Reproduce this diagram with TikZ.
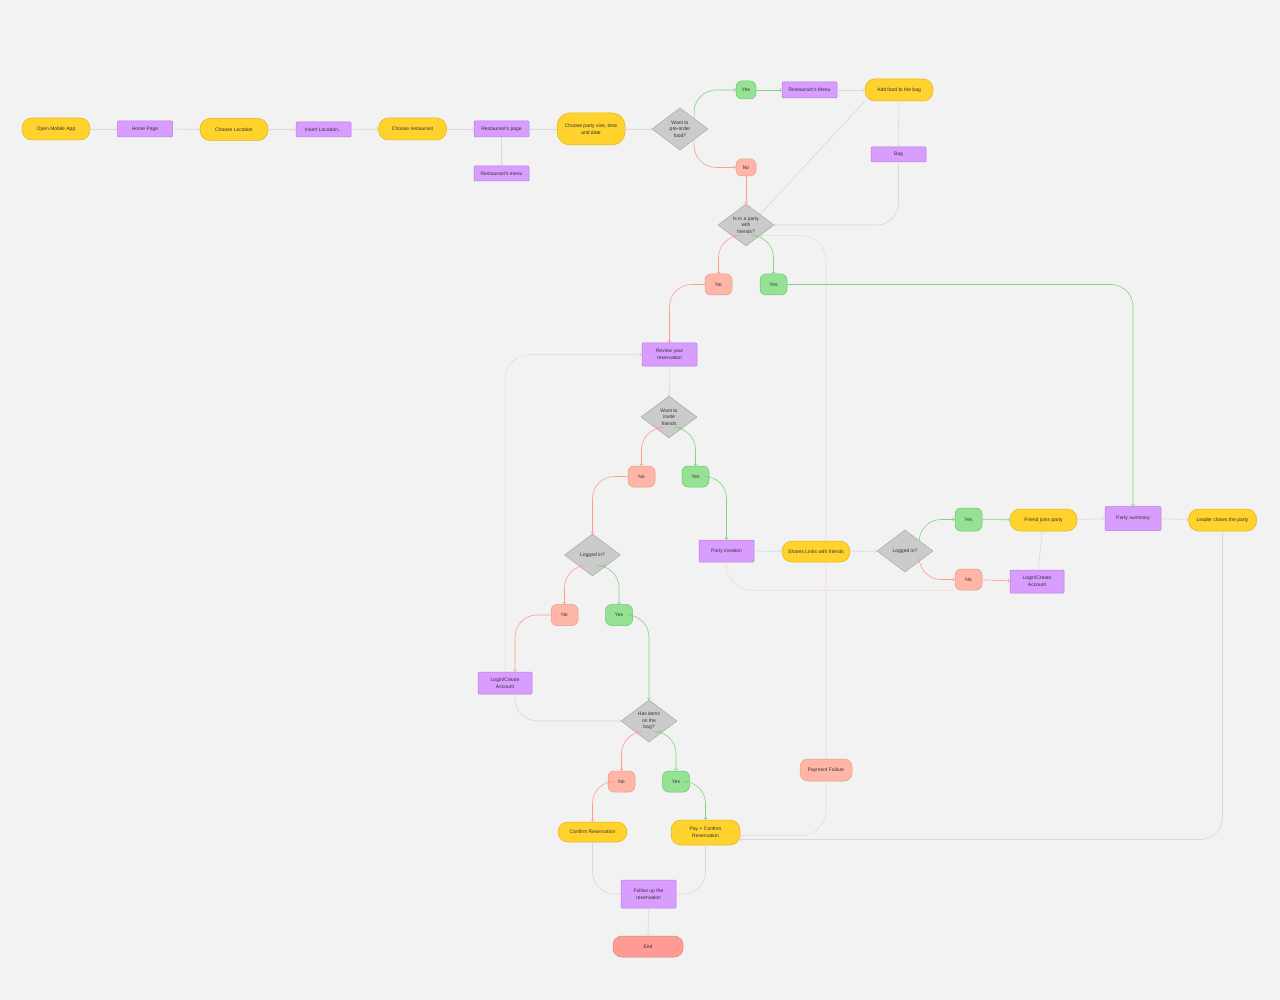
\documentclass[tikz,border=0pt]{standalone}
\usepackage{fontspec}
\setmainfont{Liberation Sans}
\usetikzlibrary{positioning,shapes.geometric}
\definecolor{bgc}{HTML}{F2F2F2}
\definecolor{pillfill}{HTML}{FFD22E}
\definecolor{pillline}{HTML}{E2B411}
\definecolor{pagefill}{HTML}{D99CFF}
\definecolor{pageline}{HTML}{B57DD9}
\definecolor{askfill}{HTML}{CBCBCB}
\definecolor{askline}{HTML}{A9A9A9}
\definecolor{yesfill}{HTML}{95E294}
\definecolor{yesline}{HTML}{6CC46B}
\definecolor{nofill}{HTML}{FFB6A6}
\definecolor{noline}{HTML}{E59A8B}
\definecolor{endfill}{HTML}{FF9A94}
\definecolor{endline}{HTML}{DC7F79}
\definecolor{flowc}{HTML}{D8D8D8}
\definecolor{yesc}{HTML}{7ED57D}
\definecolor{noc}{HTML}{FF9D8E}
\definecolor{failc}{HTML}{F5B9AF}

\begin{document}
\begin{tikzpicture}
    [x=1pt,y=-1pt,
    every node/.style={font=\fontsize{5}{6.6}\selectfont,text=black!80,
      align=center,inner sep=0pt,line width=.5pt},
    pill/.style={draw=pillline,fill=pillfill,rounded corners=10pt,
      minimum width=68pt,minimum height=22pt},
    page/.style={draw=pageline,fill=pagefill,rounded corners=1pt,
      minimum width=55pt,minimum height=16pt},
    ask/.style={diamond,aspect=1.33,draw=askline,fill=askfill,
      minimum width=56pt,minimum height=42pt},
    yesbox/.style={draw=yesline,fill=yesfill,rounded corners=6pt,
      minimum width=27pt,minimum height=21pt},
    nobox/.style={draw=noline,fill=nofill,rounded corners=6pt,
      minimum width=27pt,minimum height=21pt},
    flow/.style={draw=flowc,line width=.6pt,rounded corners=22pt},
    yesflow/.style={draw=yesc,line width=.6pt,rounded corners=22pt},
    noflow/.style={draw=noc,line width=.6pt,rounded corners=22pt},
    failflow/.style={draw=failc,line width=.6pt,densely dotted,rounded corners=25pt}]
    \useasboundingbox[fill=bgc] (0,0) rectangle (1280,1000);
    % upper row
    \node[pill] (open) at (56,129) {Open Mobile App};
    \node[page] (home) at (145,129) {Home Page};
    \node[pill] (location) at (234,129.5) {Choose Location};
    \node[page,minimum height=15pt] (insert) at (323.5,129.5) {Insert Location...};
    \node[pill] (restaurant) at (412.5,129) {Choose restaurant};
    \node[page] (rpage) at (501.5,129) {Restaurant's page};
    \node[page,minimum height=15pt] (rmenu) at (501.5,173.5) {Restaurant's menu};
    \node[pill,minimum height=32pt,rounded corners=13pt] (size) at (591,129)
      {Choose party size, time\\and date};
    \node[ask] (preorder) at (680,129) {Want to\\pre-order\\food?};
    \draw[flow,->] (open) -- (home); \draw[flow,->] (home) -- (location);
    \draw[flow,->] (location) -- (insert); \draw[flow,->] (insert) -- (restaurant);
    \draw[flow,->] (restaurant) -- (rpage); \draw[flow,->] (rpage) -- (size);
    \draw[flow,->] (rpage) -- (rmenu); \draw[flow,->] (size) -- (preorder);
    % pre-order
    \node[yesbox,minimum width=20pt,minimum height=18pt] (yes1) at (746,90) {Yes};
    \node[nobox,minimum width=20pt,minimum height=17pt] (no1) at (746,167.5) {No};
    \node[page] (menu) at (809.5,90) {Restaurant's Menu};
    \node[pill] (addfood) at (899,90) {Add food to the bag};
    \node[page,minimum height=15pt] (bag) at (898.5,154.5) {Bag};
    \node[ask] (party) at (746,225) {Is in a party\\with\\friends?};
    \draw[yesflow,->] (preorder.north east) |- (yes1.west);
    \draw[noflow,->] (preorder.south east) |- (no1.west);
    \draw[yesflow,->] (yes1) -- (menu); \draw[flow,->] (menu) -- (addfood);
    \draw[flow,->] (addfood.south west) -- (party.north east);
    \draw[flow] (addfood) -- (bag);
    \draw[flow,->] (bag.south) |- (party.east);
    \draw[noflow,->] (no1) -- (party);
    % party or not
    \node[nobox] (no2) at (718.5,284.5) {No};
    \node[yesbox] (yes2) at (773.5,284.5) {Yes};
    \node[page,minimum height=23pt] (review) at (669.5,354.5) {Review your\\reservation};
    \node[ask] (invite) at (669,417) {Want to\\invite\\friends};
    \draw[noflow,->] (party.south west) -| (no2.north);
    \draw[yesflow,->] (party.south east) -| (yes2.north);
    \draw[noflow,->] (no2.west) -| (review.north);
    \draw[flow,->] (review) -- (invite);
    % left branch
    \node[nobox] (no3) at (641.5,476.5) {No};
    \node[yesbox] (yes3) at (695.5,476.5) {Yes};
    \node[ask] (logged) at (592.5,555) {Logged in?};
    \node[nobox] (no4) at (564.5,615) {No};
    \node[yesbox] (yes4) at (619,615) {Yes};
    \node[page,minimum width=54pt,minimum height=22pt] (login) at (505,683)
      {Login/Create\\Account};
    \node[ask] (items) at (649,721) {Has items\\on the\\bag?};
    \node[nobox] (no5) at (621.5,781.5) {No};
    \node[yesbox] (yes5) at (676,781.5) {Yes};
    \node[pill,minimum width=69pt,minimum height=20pt] (confirm) at (592.5,832)
      {Confirm Reservation};
    \node[pill,minimum width=69pt,minimum height=25pt] (pay) at (705.5,832.5)
      {Pay + Confirm\\Reservation};
    \node[page,minimum height=28pt] (follow) at (648.5,894) {Follow up the\\reservation};
    \node[draw=endline,fill=endfill,rounded corners=9pt,minimum width=70pt,
      minimum height=21pt] (end) at (648,946.5) {End};
    \node[nobox,minimum width=52pt,minimum height=22pt,rounded corners=8pt] (fail)
      at (826,770) {Payment Failure};
    \draw[noflow,->] (invite.south west) -| (no3.north);
    \draw[yesflow,->] (invite.south east) -| (yes3.north);
    \draw[noflow,->] (no3.west) -| (logged.north);
    \draw[noflow,->] (logged.south west) -| (no4.north);
    \draw[yesflow,->] (logged.south east) -| (yes4.north);
    \draw[noflow,->] (no4.west) -| ([xshift=10pt]login.north);
    \draw[failflow,->] (login.north) |- (review.west);
    \draw[yesflow,->] (yes4.east) -| (items.north);
    \draw[flow,->] ([xshift=10pt]login.south) |- (items.west);
    \draw[noflow,->] (items.south west) -| (no5.north);
    \draw[yesflow,->] (items.south east) -| (yes5.north);
    \draw[noflow,->] (no5.west) -| (confirm.north);
    \draw[yesflow,->] (yes5.east) -| (pay.north);
    \draw[flow] (confirm.south) |- (follow.west);
    \draw[flow] (pay.south) |- (follow.east);
    \draw[flow,->] (follow) -- (end);
    \draw[failflow] ([yshift=-3pt]pay.east) -| (fail.south);
    \draw[failflow,->] (fail.north) |- (party.south east);
    % right branch
    \node[page,minimum height=22pt] (creation) at (726.5,551) {Party creation};
    \node[pill,minimum height=21pt] (shares) at (816,551.5) {Shares Links with friends};
    \node[ask] (logged2) at (905,551) {Logged in?};
    \node[yesbox,minimum height=23pt] (yes6) at (968.5,519.5) {Yes};
    \node[nobox] (no6) at (968.5,579.5) {No};
    \node[pill,minimum width=67pt] (friend) at (1043.5,520) {Friend joins party};
    \node[page,minimum width=54pt,minimum height=23pt] (login2) at (1037,581.5)
      {Login/Create\\Account};
    \node[page,minimum width=56pt,minimum height=24pt] (summary) at (1133,518.5)
      {Party summary};
    \node[pill] (leader) at (1222.5,520) {Leader closes the party};
    \draw[yesflow,->] (yes3.east) -| (creation.north);
    \draw[yesflow,->] (yes2.east) -| (summary.north);
    \draw[flow,->] (creation) -- (shares); \draw[flow,->] (shares) -- (logged2);
    \draw[failflow] (creation.south) |- (no6.south west);
    \draw[yesflow,->] (logged2.north east) |- (yes6.west);
    \draw[noflow,->] (logged2.south east) |- (no6.west);
    \draw[yesflow,->] (yes6) -- (friend); \draw[noflow,->] (no6) -- (login2);
    \draw[flow,->] (login2) -- (friend);
    \draw[flow,->] (friend) -- (summary); \draw[flow,->] (summary) -- (leader);
    \draw[flow,->] (leader.south) |- ([yshift=-7pt]pay.east);
  \end{tikzpicture}
\end{document}
